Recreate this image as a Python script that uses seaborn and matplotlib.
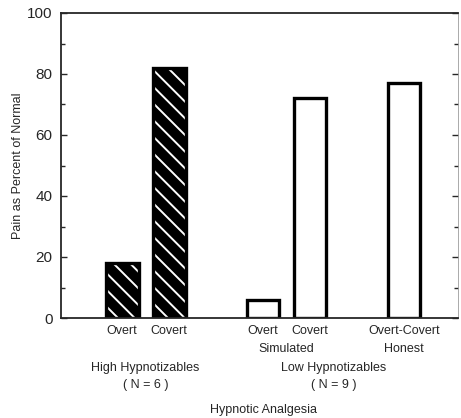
import numpy as np
import pandas as pd
import matplotlib
matplotlib.use("Agg")
import matplotlib.pyplot as plt
from matplotlib.ticker import MultipleLocator
import seaborn as sns

# bar values (pain as percent of normal)
positions = [0, 1, 3, 4, 6]
pain_pct = [18, 82, 6, 72, 77]
group = ["high", "high", "low", "low", "low"]
bar_labels = ["Overt", "Covert", "Overt", "Covert", "Overt-Covert"]

sns.set_style("ticks")
plt.rcParams["font.family"] = ["Liberation Sans", "DejaVu Sans"]
plt.rcParams["hatch.linewidth"] = 1.4

df = pd.DataFrame({"pos": positions, "pain": pain_pct, "group": group})

fig = plt.figure(figsize=(4.61, 4.18), dpi=100)
ax = fig.add_axes([61 / 461, 1 - 318 / 418, 397 / 461, 305 / 418])

# fill layer: black with white diagonal hatch for high hypnotizables
sns.barplot(data=df, x="pos", y="pain", native_scale=True, width=0.7,
            color="white", linewidth=0, ax=ax, errorbar=None)
for patch, g in zip(ax.patches, group):
    if g == "high":
        patch.set_facecolor("black")
        patch.set_edgecolor("white")
        patch.set_hatch("\\\\")
        patch.set_linewidth(0)

# outline layer
sns.barplot(data=df, x="pos", y="pain", native_scale=True, width=0.7,
            fill=False, edgecolor="black", linewidth=2.4, ax=ax, errorbar=None)

ax.set_xlim(-1.3, 7.15)
ax.set_ylim(0, 100)
ax.yaxis.set_major_locator(MultipleLocator(20))
ax.yaxis.set_minor_locator(MultipleLocator(10))
ax.tick_params(axis="y", which="both", direction="in", left=True, right=True,
               labelsize=11, width=1, length=4, pad=6)
ax.tick_params(axis="y", which="minor", length=3)
ax.set_xticks(positions)
ax.set_xticklabels(bar_labels, fontsize=9)
ax.tick_params(axis="x", length=0, pad=5)
ax.set_xlabel("")
ax.set_ylabel("Pain as Percent of Normal", fontsize=9, labelpad=2)

for side in ["left", "bottom", "top"]:
    ax.spines[side].set_linewidth(1.3)
ax.spines["right"].set_linewidth(0.5)
ax.spines["right"].set_color("#888888")

# second line of labels and group captions
tr = ax.get_xaxis_transform()
ax.text(3.5, -0.1, "Simulated", transform=tr, ha="center", va="center", fontsize=9)
ax.text(6, -0.1, "Honest", transform=tr, ha="center", va="center", fontsize=9)
ax.text(0.5, -0.165, "High Hypnotizables", transform=tr, ha="center", va="center", fontsize=9)
ax.text(0.5, -0.22, "( N = 6 )", transform=tr, ha="center", va="center", fontsize=9)
ax.text(4.5, -0.165, "Low Hypnotizables", transform=tr, ha="center", va="center", fontsize=9)
ax.text(4.5, -0.22, "( N = 9 )", transform=tr, ha="center", va="center", fontsize=9)
ax.text(3.0, -0.3, "Hypnotic Analgesia", transform=tr, ha="center", va="center", fontsize=9)

fig.savefig("out.png", dpi=100)
